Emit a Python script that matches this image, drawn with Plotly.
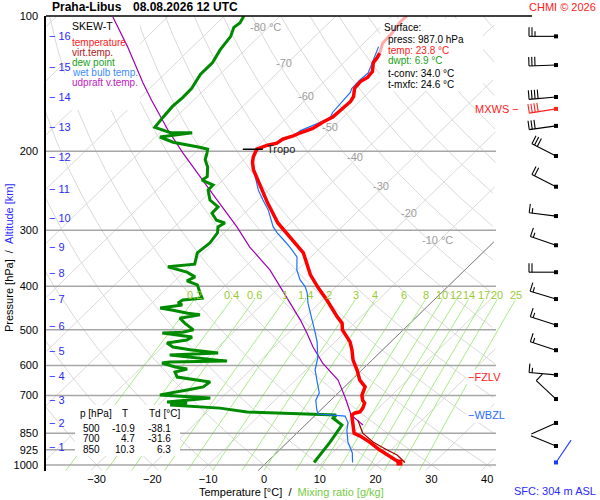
import numpy as np
import plotly.graph_objects as go

# ---- sounding (p in hPa, temperatures in deg C) ----
temp_p = [987, 955, 926, 889, 862, 850, 802, 774, 766, 762, 747, 728, 717, 700, 670, 647,
          614, 584, 554, 532, 500, 483, 468, 429, 403, 377, 337, 312, 289, 261, 244, 232,
          220, 212, 206, 198, 196, 194, 192, 188, 185, 182, 178, 172, 168, 160, 155, 151,
          145, 140, 137, 133, 127, 124, 121]
temp_t = [23.8, 20.9, 18.0, 14.7, 11.9, 10.3, 8.0, 6.5, 6.7, 7.4, 7.2, 6.6, 5.7, 4.7, 3.7, 1.5,
          -0.9, -3.4, -5.5, -7.3, -10.9, -12.2, -14.2, -19.2, -23.0, -26.8, -32.1, -37.2, -42.2,
          -47.7, -51.1, -53.7, -56.4, -57.9, -58.8, -59.6, -59.1, -58.4, -57.1, -56.8, -55.5,
          -54.8, -53.4, -52.7, -51.9, -51.7, -51.6, -52.0, -53.3, -53.5, -53.0, -53.2, -54.7,
          -54.9, -55.3]
# top of the ascent, drawn pale
temp_top_p = [121, 115, 109, 103, 100]
temp_top_t = [-55.3, -56.6, -56.8, -57.4, -57.3]

virt_p = [987, 950, 926, 889, 849, 794]
virt_t = [24.8, 22.0, 19.3, 15.3, 11.8, 8.5]

dew_p = [987, 889, 815, 786, 774, 770, 762, 747, 735, 728, 724, 709, 698, 681, 670, 653, 640,
         637, 621, 611, 605, 593, 590, 587, 569, 563, 554, 546, 535, 527, 519, 508, 506, 500,
         483, 471, 463, 459, 452, 447, 440, 436, 429, 425, 414, 397, 389, 381, 372, 362, 357,
         337, 320, 304, 295, 289, 285, 275, 266, 257, 244, 238, 232, 228, 217, 209, 202, 198,
         196, 191, 186, 182, 182, 177, 168, 159, 152, 145, 135, 127, 119, 111, 106, 103.7, 100]
dew_t = [8.5, 7.6, 6.6, 3.7, 3.7, -3.0, -12.8, -18.4, -27.9, -25.2, -29.0, -22.0, -31.6, -27.6,
         -25.3, -25.0, -31.1, -31.8, -33.1, -31.5, -34.0, -37.1, -35.9, -25.8, -37.2, -28.9,
         -34.5, -38.1, -39.9, -36.9, -36.5, -42.6, -39.1, -37.6, -40.4, -42.2, -39.2, -41.7,
         -44.9, -47.6, -44.2, -45.3, -45.0, -41.9, -43.2, -45.2, -47.8, -47.1, -49.4, -53.8,
         -49.5, -51.1, -50.7, -51.2, -52.2, -51.7, -53.7, -55.8, -55.9, -58.6, -60.8, -60.8,
         -63.7, -63.4, -65.1, -66.9, -67.8, -68.4, -70.2, -75.9, -79.2, -74.2, -78.1, -81.9,
         -82.3, -82.6, -82.4, -82.5, -83.5, -83.5, -84.5, -85.1, -86.2, -85.9, -86.5]

wetb_p = [987, 940, 889, 836, 806, 778, 770, 754, 717, 691, 647, 614, 578, 532, 508, 475, 452,
          436, 414, 401, 387, 368, 344, 327, 315, 304, 295, 270, 257, 244, 228, 212.5, 206, 198,
          196, 194, 189, 185, 180, 169, 164, 148, 145, 139, 134, 127, 117]
wetb_t = [15.4, 13.6, 10.8, 8.4, 7.3, 5.5, 0.3, -0.7, -2.7, -3.4, -6.2, -8.4, -10.1, -13.2,
          -15.2, -18.2, -20.4, -22.0, -24.0, -25.5, -27.7, -30.1, -32.5, -35.6, -38.1, -40.5,
          -42.3, -46.4, -49.1, -51.8, -54.8, -57.9, -58.8, -59.6, -59.1, -58.0, -56.6, -55.5,
          -55.2, -52.2, -52.8, -53.3, -53.8, -53.9, -53.7, -54.9, -56.7]

parcel_p = [815, 774, 709, 647, 593, 546, 508, 475, 436, 401, 368, 327, 295, 257, 228, 202,
            179, 154, 141, 117, 100.5]
parcel_t = [10.4, 6.4, 2.2, -2.4, -8.3, -13.0, -16.7, -20.3, -25.2, -30.0, -34.9, -42.8, -48.8,
            -57.3, -64.6, -72.1, -79.2, -87.5, -92.2, -101.7, -109.8]

# wind profile (direction deg, speed kt)
wind_p = [111, 128.6, 151.5, 161, 175.7, 205, 240, 279, 324, 372, 427, 488, 555, 630, 713,
          806, 907, 987]
wind_dir = [270, 268, 265, 261, 262, 297, 297, 277, 289, 270, 287, 288, 288, 275, 313, 246,
            292, 34]
wind_spd = [25, 30, 40, 40, 30, 30, 20, 15, 15, 20, 15, 15, 15, 15, 10, 4, 4, 2]
mxws_p = 161
tropo_p, tropo_t = 198, -59.6
fzlv_p, wbzl_p = 637, 772

press_ticks = [100, 200, 300, 400, 500, 600, 700, 850, 925, 1000]
temp_ticks = [-30, -20, -10, 0, 10, 20, 30, 40]
mix_ratios = [0.2, 0.4, 0.6, 1, 1.4, 2, 3, 4, 6, 8, 10, 12, 14, 17, 20, 25]
mix_labels = ["0.2", "0.4", "0.6", "1", "1.4", "2", "3", "4", "6", "8", "10", "12", "14",
              "17", "20", "25"]
iso_labels = [(-80, 105.8, "-80 °C"), (-70, 127.3, "-70"), (-60, 150.7, "-60"),
              (-50, 176.8, "-50"), (-40, 206, "-40"), (-30, 239, "-30"), (-20, 274, "-20"),
              (-10, 315, "-10 °C")]
alt_km = list(range(1, 17))
alt_p = [912, 806, 717, 634, 557, 490, 427, 374, 327, 282, 243, 206, 176.7, 151.5, 129.9, 110.8]

table_rows = [("500", "-10.9", "-38.1"), ("700", "4.7", "-31.6"), ("850", "10.3", "6.3")]

# ---- diagram geometry ----
W, H = 600, 500
LEFT, RIGHT, TOP = 46, 532, 16
PX_PER_LN = 195.0
X0_PX, PX_PER_C = 264.0, 5.58
SKEW = 36.0
P_TOP, P_BASE, P_LOW = 100.0, 1000.0, 1030.0
X_LEFT = (LEFT - X0_PX) / PX_PER_C
X_RIGHT = (RIGHT - X0_PX) / PX_PER_C
X_CLIP = (496 - X0_PX) / PX_PER_C
BOTTOM = TOP + PX_PER_LN * np.log(P_LOW / P_TOP)

FONT = "Arial, Liberation Sans, sans-serif"
GRID = "#d9d9d9"
MIXC = "#a8ec84"
BLUE = "#2a2aff"


def skew(t, p):
    return np.asarray(t, float) + SKEW * np.log(P_BASE / np.asarray(p, float))


def py(p):
    return TOP + PX_PER_LN * np.log(np.asarray(p, float) / P_TOP)


def joined(segs):
    xs, ys = [], []
    for x, y in segs:
        xs += list(x) + [None]
        ys += list(y) + [None]
    return xs, ys


fig = go.Figure()

# isotherms
pp = np.geomspace(P_LOW, P_TOP, 150)
segs = []
for t in range(-130, 50, 10):
    x = skew(np.full_like(pp, t), pp)
    m = x <= X_CLIP
    segs.append((x[m], pp[m]))
xs, ys = joined(segs)
fig.add_trace(go.Scatter(x=xs, y=ys, mode="lines", line=dict(color=GRID, width=1), hoverinfo="skip"))

# dry adiabats
segs = []
for th in range(-40, 190, 10):
    t = (th + 273.15) * (pp / 1000.0) ** 0.2857 - 273.15
    x = skew(t, pp)
    m = x <= X_CLIP
    segs.append((x[m], pp[m]))
xs, ys = joined(segs)
fig.add_trace(go.Scatter(x=xs, y=ys, mode="lines", line=dict(color=GRID, width=1), hoverinfo="skip"))

# zero isotherm
x0 = skew(np.zeros_like(pp), pp)
m = x0 <= X_CLIP
fig.add_trace(go.Scatter(x=x0[m], y=pp[m], mode="lines", line=dict(color="#808080", width=1),
                         hoverinfo="skip"))

# mixing ratio lines
pm = np.geomspace(P_LOW, 428, 40)
segs = []
for w in mix_ratios:
    e = w * pm / (622.0 + w)
    a = np.log(e / 6.112)
    td = 243.5 * a / (17.67 - a)
    segs.append((skew(td, pm), pm))
xs, ys = joined(segs)
fig.add_trace(go.Scatter(x=xs, y=ys, mode="lines", line=dict(color=MIXC, width=1), hoverinfo="skip"))

# isobars
segs = [([X_LEFT, X_CLIP], [p, p]) for p in press_ticks[1:]]
xs, ys = joined(segs)
fig.add_trace(go.Scatter(x=xs, y=ys, mode="lines", line=dict(color="#a6a6a6", width=1.5),
                         hoverinfo="skip"))


# white boxes under the text blocks
def box(x0, y0, x1, y1):
    bx = [(v - X0_PX) / PX_PER_C for v in (x0, x1, x1, x0, x0)]
    by = [P_TOP * np.exp((v - TOP) / PX_PER_LN) for v in (y0, y0, y1, y1, y0)]
    fig.add_trace(go.Scatter(x=bx, y=by, mode="lines", fill="toself", fillcolor="white",
                             line=dict(width=0, color="white"), hoverinfo="skip"))


box(65, 17, 140, 110)
box(380, 19, 483, 91)
box(75, 405, 180, 456)

# profiles
fig.add_trace(go.Scatter(x=skew(parcel_t, parcel_p), y=parcel_p, mode="lines",
                         line=dict(color="#a000b4", width=1.2)))
fig.add_trace(go.Scatter(x=skew(dew_t, dew_p), y=dew_p, mode="lines",
                         line=dict(color="#008a00", width=3)))
fig.add_trace(go.Scatter(x=skew(wetb_t, wetb_p), y=wetb_p, mode="lines",
                         line=dict(color="#1e6eff", width=1.2)))
fig.add_trace(go.Scatter(x=skew(virt_t, virt_p), y=virt_p, mode="lines",
                         line=dict(color="#9a0000", width=1.2)))
fig.add_trace(go.Scatter(x=skew(temp_top_t, temp_top_p), y=temp_top_p, mode="lines",
                         line=dict(color="#ffaaaa", width=3)))
fig.add_trace(go.Scatter(x=skew(temp_t, temp_p), y=temp_p, mode="lines",
                         line=dict(color="#ff0000", width=3.5)))
fig.add_trace(go.Scatter(x=skew(temp_t[:1], temp_p[:1]), y=temp_p[:1], mode="markers",
                         marker=dict(symbol="square", size=6, color="#ff0000")))

# tropopause mark
xt = float(skew(tropo_t, tropo_p))
fig.add_trace(go.Scatter(x=[xt - 2.5, xt + 1.1], y=[tropo_p, tropo_p], mode="lines",
                         line=dict(color="black", width=1.5)))
fig.add_annotation(x=xt + 1.4, y=np.log10(tropo_p), xref="x", yref="y", text="Tropo",
                   showarrow=False, xanchor="left", yanchor="middle",
                   font=dict(size=11, color="#202020"))

# ---- wind barbs on the pixel overlay ----
BARB_X, STAFF, FULL, HALF, GAP = 556, 27, 9, 5, 3


def barb(p, wdir, spd):
    x0, y0 = BARB_X, float(py(p))
    th = np.deg2rad(wdir)
    ux, uy = np.sin(th), -np.cos(th)
    vx, vy = np.cos(th), np.sin(th)
    xs = [x0, x0 + STAFF * ux, None]
    ys = [y0, y0 + STAFF * uy, None]
    n10, n5 = int(spd // 10), int(spd % 10 >= 5)
    for i in range(n10 + n5):
        ln = FULL if i < n10 else HALF
        k = STAFF - i * GAP
        bx, by = x0 + k * ux, y0 + k * uy
        xs += [bx, bx + ln * vx, None]
        ys += [by, by + ln * vy, None]
    return xs, ys


groups = {"black": ([], [], [], []), "#ff2020": ([], [], [], []), "#1e3cff": ([], [], [], [])}
for i, (p, d, s) in enumerate(zip(wind_p, wind_dir, wind_spd)):
    c = "#ff2020" if p == mxws_p else ("#1e3cff" if i == len(wind_p) - 1 else "black")
    bx, by = barb(p, d, s)
    g = groups[c]
    g[0].extend(bx)
    g[1].extend(by)
    g[2].append(BARB_X)
    g[3].append(float(py(p)))
for c, (bx, by, dx, dy) in groups.items():
    fig.add_trace(go.Scatter(x=bx, y=by, mode="lines", line=dict(color=c, width=1.1),
                             xaxis="x2", yaxis="y2"))
    fig.add_trace(go.Scatter(x=dx, y=dy, mode="markers", xaxis="x2", yaxis="y2",
                             marker=dict(symbol="square", size=4, color=c)))


# ---- text ----
def note(x, y, text, color="black", size=11, anchor="left", **kw):
    fig.add_annotation(x=x, y=y, xref="x2", yref="y2", text=text, showarrow=False,
                       xanchor=anchor, yanchor="middle",
                       font=dict(size=size, color=color, family=FONT), **kw)


note(50, 7, "<b>Praha-Libus</b>", size=12)
note(131, 7, "<b>08.08.2026 12 UTC</b>", size=12)
note(598, 7, "CHMI © 2026", color="#ff2020", size=11, anchor="right")

note(70, 26, "SKEW-T", size=10.5)
for i, (txt, c) in enumerate([("temperature", "#ff2020"), ("virt.temp.", "#b01818"),
                              ("dew point", "#20a020"), ("wet bulb temp.", "#3c8cff"),
                              ("udpraft v.temp.", "#c020c0")]):
    note(70, 42 + 10 * i, txt, color=c, size=10)

note(382, 27, "Surface:", size=10)
note(386, 39, "press: 987.0 hPa", size=10)
note(386, 50, "temp: 23.8 °C", color="#ff2020", size=10)
note(386, 60, "dwpt: 6.9 °C", color="#20a020", size=10)
note(386, 73, "t-conv: 34.0 °C", size=10)
note(386, 84, "t-mxfc: 24.6 °C", size=10)

note(78, 413, "p [hPa]", size=10)
note(125, 413, "T", size=10, anchor="center")
note(147, 413, "Td [°C]", size=10)
for i, (p, t, td) in enumerate(table_rows):
    yy = 428 + 10.5 * i
    note(102, yy, p, size=10, anchor="right")
    note(137, yy, t, size=10, anchor="right")
    note(173, yy, td, size=10, anchor="right")

for (t, p, txt) in iso_labels:
    fig.add_annotation(x=float(skew(t, p)), y=np.log10(p), xref="x", yref="y", text=txt,
                       showarrow=False, xanchor="center", yanchor="middle", xshift=-3,
                       font=dict(size=11, color="#9c9c9c"))

for w, txt in zip(mix_ratios, mix_labels):
    e = w * 428 / (622.0 + w)
    a = np.log(e / 6.112)
    td = 243.5 * a / (17.67 - a)
    fig.add_annotation(x=float(skew(td, 428)), y=np.log10(418), xref="x", yref="y", text=txt,
                       showarrow=False, xanchor="center", yanchor="middle",
                       font=dict(size=11, color="#99cc33"))

for km, p in zip(alt_km, alt_p):
    fig.add_annotation(x=47, y=np.log10(p), xref="x2", yref="y", text="\u2212 " + str(km),
                       showarrow=False, xanchor="left", yanchor="middle",
                       font=dict(size=11, color=BLUE))

fig.add_annotation(x=521, y=np.log10(mxws_p), xref="x2", yref="y", text="MXWS \u2212",
                   showarrow=False, xanchor="right", yanchor="middle",
                   font=dict(size=11, color="#ff2020"))
fig.add_annotation(x=466, y=np.log10(fzlv_p), xref="x2", yref="y", text="\u2212FZLV ",
                   showarrow=False, xanchor="left", yanchor="middle", bgcolor="white",
                   font=dict(size=11, color="#ff2020"))
fig.add_annotation(x=466, y=np.log10(wbzl_p), xref="x2", yref="y", text="\u2212WBZL",
                   showarrow=False, xanchor="left", yanchor="middle", bgcolor="white",
                   font=dict(size=11, color="#2a6aff"))

sp = "\u00a0"
note(197, 492, "Temperature [°C]" + sp * 2 + "/" + sp * 2
     + "<span style='color:#77cc44'>Mixing ratio [g/kg]</span>", size=11)
note(512, 491, "SFC: 304 m ASL", color=BLUE, size=11)
note(9, 258, "Pressure [hPa]" + sp * 2 + "/" + sp * 2
     + "<span style='color:%s'>Altitude [km]</span>" % BLUE, size=11, anchor="center",
     textangle=-90)

# frame line along 100 hPa
fig.add_shape(type="line", xref="x2", yref="y2", x0=LEFT, x1=RIGHT, y0=TOP, y1=TOP,
              line=dict(color="black", width=1.5))

fig.update_layout(
    width=W, height=H, autosize=False,
    margin=dict(l=0, r=0, t=0, b=0, pad=0, autoexpand=False),
    paper_bgcolor="white", plot_bgcolor="rgba(0,0,0,0)",
    showlegend=False,
    font=dict(family=FONT, size=11, color="black"),
    xaxis=dict(domain=[LEFT / W, RIGHT / W], range=[X_LEFT, X_RIGHT], showgrid=False,
               zeroline=False, showline=False, ticks="", tickvals=temp_ticks,
               automargin=False, tickfont=dict(size=11, color="black")),
    yaxis=dict(domain=[1 - BOTTOM / H, 1 - TOP / H], type="log",
               range=[np.log10(P_LOW), np.log10(P_TOP)], showgrid=False, zeroline=False,
               showline=True, linecolor="black", linewidth=1.5, ticks="",
               tickvals=press_ticks, ticktext=[str(v) for v in press_ticks],
               automargin=False, tickfont=dict(size=11, color="black"), ticklabelstandoff=4),
    xaxis2=dict(domain=[0, 1], range=[0, W], visible=False, anchor="y2", automargin=False),
    yaxis2=dict(domain=[0, 1], range=[H, 0], visible=False, anchor="x2", automargin=False),
)

fig.write_html("out.html", config={"displayModeBar": False},
               post_script="document.body.style.margin='0px';")
